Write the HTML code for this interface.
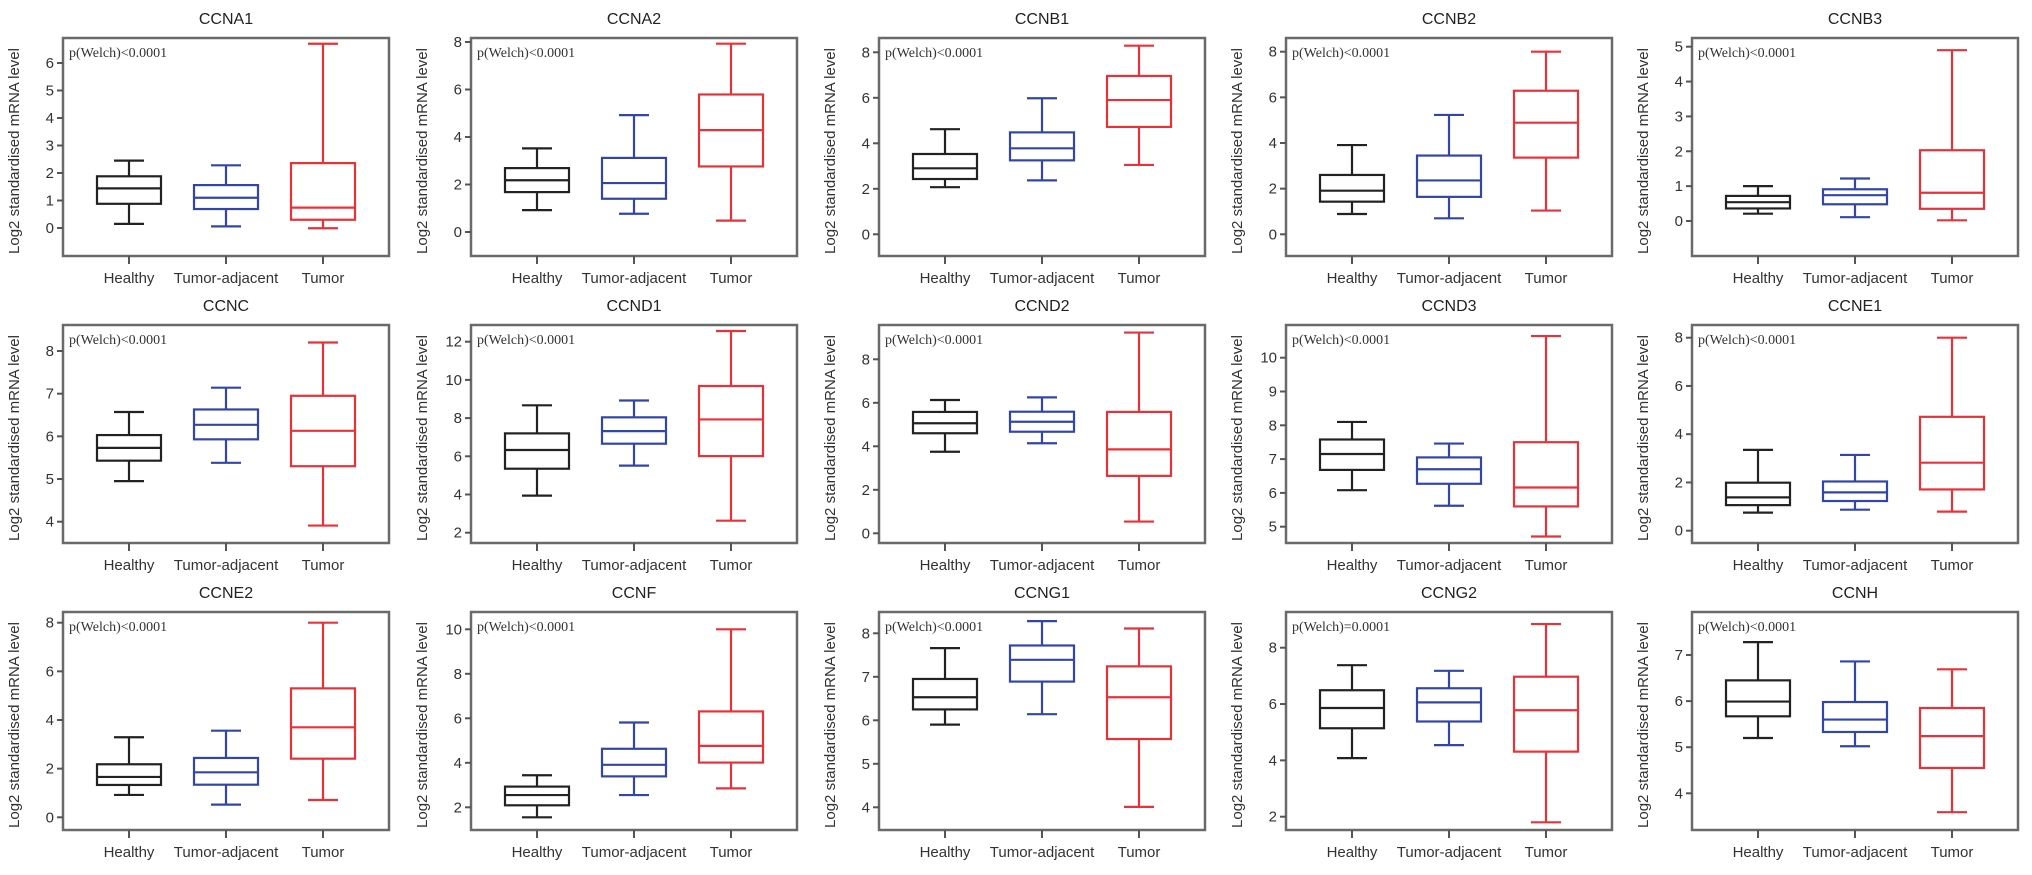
<!DOCTYPE html>
<html><head><meta charset="utf-8"><style>
html,body{margin:0;padding:0;background:#fff}
svg{display:block}
text{font-family:"Liberation Sans",Arial,sans-serif}
text.pval{font-family:"Liberation Serif",serif}
</style></head><body>
<svg id="chart" width="2032" height="875" viewBox="0 0 2032 875" xmlns="http://www.w3.org/2000/svg"></svg>
<script>
const genes = ["CCNA1","CCNA2","CCNB1","CCNB2","CCNB3","CCNC","CCND1","CCND2","CCND3","CCNE1","CCNE2","CCNF","CCNG1","CCNG2","CCNH"];
const groups = ["Healthy","Tumor-adjacent","Tumor"];
const pLabels = ["p(Welch)<0.0001","p(Welch)<0.0001","p(Welch)<0.0001","p(Welch)<0.0001","p(Welch)<0.0001","p(Welch)<0.0001","p(Welch)<0.0001","p(Welch)<0.0001","p(Welch)<0.0001","p(Welch)<0.0001","p(Welch)<0.0001","p(Welch)<0.0001","p(Welch)<0.0001","p(Welch)=0.0001","p(Welch)<0.0001"];
// [min, q1, median, q3, max] per group: Healthy, Tumor-adjacent, Tumor
const healthyStats = [
 [0.15,0.88,1.44,1.88,2.45],[0.92,1.68,2.18,2.69,3.52],[2.07,2.43,2.90,3.53,4.62],[0.89,1.43,1.91,2.60,3.91],[0.21,0.36,0.54,0.72,1.0],
 [4.95,5.43,5.73,6.03,6.57],[3.94,5.35,6.33,7.2,8.67],[3.75,4.6,5.06,5.58,6.13],[6.08,6.68,7.15,7.58,8.10],[0.75,1.06,1.38,1.99,3.35],
 [0.92,1.33,1.66,2.18,3.29],[1.55,2.09,2.55,2.93,3.44],[5.90,6.25,6.53,6.95,7.66],[4.08,5.14,5.86,6.49,7.38],[5.20,5.67,5.99,6.45,7.28]];
const adjacentStats = [
 [0.06,0.69,1.10,1.56,2.28],[0.77,1.40,2.06,3.12,4.92],[2.37,3.25,3.78,4.48,5.98],[0.70,1.64,2.36,3.45,5.23],[0.11,0.48,0.74,0.91,1.22],
 [5.38,5.93,6.27,6.63,7.14],[5.51,6.66,7.32,8.04,8.92],[4.14,4.67,5.13,5.59,6.25],[5.62,6.27,6.70,7.05,7.46],[0.87,1.23,1.59,2.04,3.14],
 [0.52,1.34,1.85,2.44,3.56],[2.55,3.39,3.91,4.63,5.81],[6.14,6.89,7.39,7.72,8.28],[4.54,5.38,6.06,6.56,7.18],[5.02,5.33,5.60,5.98,6.86]];
const tumorStats = [
 [-0.01,0.30,0.74,2.36,6.70],[0.48,2.76,4.29,5.79,7.93],[3.05,4.72,5.90,6.96,8.29],[1.04,3.36,4.89,6.29,8.0],[0.02,0.35,0.81,2.03,4.90],
 [3.91,5.30,6.13,6.95,8.20],[2.63,6.01,7.93,9.68,12.56],[0.54,2.64,3.86,5.58,9.23],[4.71,5.60,6.16,7.50,10.64],[0.79,1.71,2.82,4.72,8.0],
 [0.71,2.41,3.70,5.30,8.0],[2.85,4.01,4.76,6.31,10.0],[4.01,5.57,6.53,7.24,8.11],[1.80,4.31,5.78,6.97,8.84],[3.59,4.55,5.24,5.85,6.69]];
// tick labels: [start, end, step]
const tickSpecs = [[0,6,1],[0,8,2],[0,8,2],[0,8,2],[0,5,1],[4,8,1],[2,12,2],[0,8,2],[5,10,1],[0,8,2],[0,8,2],[2,10,2],[4,8,1],[2,8,2],[4,7,1]];

// layout (pixel calibration: value a at pixel pa, value b at pixel pb)
const colLeft=[63,471,879,1286,1692], rowTop=[38,325,612], FW=326, FH=218;
const calib=[[0,228,6,63],[0,232,8,42],[0,234.3,8,52.3],[0,234.3,8,51.7],[0,221,5,46.7],
 [8,351,4,521.7],[12,341.7,2,532.7],[8,359.3,0,533.3],[10,357.7,5,526.7],[8,337.7,0,530.7],
 [8,622.7,0,817.3],[10,629.3,2,807.3],[8,633.3,4,807.3],[8,647.7,2,816.7],[7,655,4,793.3]];
const colors=["#222222","#3346a8","#e8323a"];
const NS="http://www.w3.org/2000/svg";
const svg=document.getElementById('chart');
function mk(tag,attrs,parent){const e=document.createElementNS(NS,tag);for(const k in attrs)e.setAttribute(k,attrs[k]);(parent||svg).appendChild(e);return e;}

genes.forEach((g,i)=>{
  const r=Math.floor(i/5), c=i%5;
  const x0=colLeft[c], y0=rowTop[r], x1=x0+FW, y1=y0+FH;
  const [va,pa,vb,pb]=calib[i];
  const yS=v=>pa+(v-va)*(pb-pa)/(vb-va);
  const xS=k=>x0+[66,163,260][k];
  const grp=mk('g',{});
  
  
  const t=mk('text',{x:(x0+x1)/2,y:y0-14,'text-anchor':'middle','font-size':16,fill:'#222'},grp);
  t.textContent=g;
  
  
  const fr=mk('rect',{x:x0,y:y0,width:FW,height:FH,fill:'none',stroke:'#6a6a6a','stroke-width':2.5},grp);
  
  
  const yt=mk('text',{transform:`translate(${x0-44},${(y0+y1)/2+4}) rotate(-90)`,'text-anchor':'middle','font-size':15,fill:'#333'},grp);
  yt.textContent='Log2 standardised mRNA level';
  
  
  const pt=mk('text',{x:x0+6,y:y0+19,'font-size':14,fill:'#333','class':'pval'},grp);
  pt.textContent=pLabels[i];
  
  
  const [s,e,st]=tickSpecs[i];
  for(let v=s;v<=e+1e-9;v+=st){
    const y=yS(v);
    const tk=mk('line',{x1:x0-6,x2:x0,y1:y,y2:y,stroke:'#555','stroke-width':2},grp);
    
    
    const tl=mk('text',{x:x0-9,y:y+5,'text-anchor':'end','font-size':15,fill:'#333'},grp);
    tl.textContent=v;
    
    
  }
  groups.forEach((gn,k)=>{
    const cx=xS(k);
    const xt=mk('line',{x1:cx,x2:cx,y1:y1,y2:y1+8,stroke:'#555','stroke-width':2},grp);
    
    
    const xl=mk('text',{x:cx,y:y1+27,'text-anchor':'middle','font-size':15,fill:'#333'},grp);
    xl.textContent=gn;
    
    
    const st5=[healthyStats,adjacentStats,tumorStats][k][i];
    const col=colors[k];
    const bg=mk('g',{stroke:col,'stroke-width':2.2,fill:'none'},grp);
    
    
    const [mn,q1,md,q3,mx]=st5;
    mk('line',{x1:cx,x2:cx,y1:yS(mx),y2:yS(q3)},bg);
    mk('line',{x1:cx,x2:cx,y1:yS(q1),y2:yS(mn)},bg);
    mk('line',{x1:cx-15,x2:cx+15,y1:yS(mx),y2:yS(mx)},bg);
    mk('line',{x1:cx-15,x2:cx+15,y1:yS(mn),y2:yS(mn)},bg);
    mk('rect',{x:cx-32,y:yS(q3),width:64,height:yS(q1)-yS(q3)},bg);
    mk('line',{x1:cx-32,x2:cx+32,y1:yS(md),y2:yS(md)},bg);
  });
});
</script>
</body></html>
